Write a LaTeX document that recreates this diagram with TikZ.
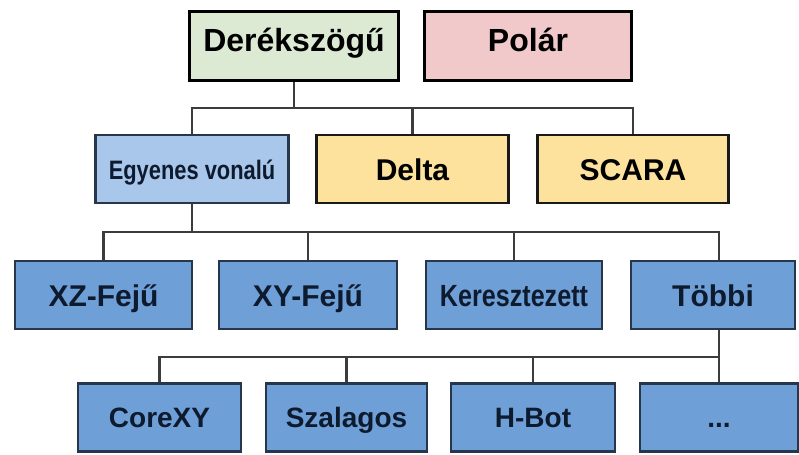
\documentclass[tikz,border=0pt]{standalone}
\usepackage{fontspec}
\setmainfont{Liberation Sans}
\newfontfamily\narrowfont{Liberation Sans}[FakeStretch=0.82]
\usepackage{xcolor}
\usepackage{tikz}
\usetikzlibrary{positioning}

\definecolor{cartfill}{HTML}{DCEAD4}
\definecolor{polfill}{HTML}{F2C9CA}
\definecolor{linfill}{HTML}{A8C7EA}
\definecolor{robfill}{HTML}{FCE29C}
\definecolor{kinfill}{HTML}{6F9FD7}
\definecolor{kinedge}{HTML}{27364A}
\definecolor{kintext}{HTML}{0E1B2E}
\definecolor{linkcol}{HTML}{3C3C3C}

\begin{document}
\begin{tikzpicture}[x=0.75pt, y=-0.75pt,
    box/.style={draw, rectangle, inner sep=0pt, text height=17pt, text depth=0pt},
    main/.style={box, line width=2.2pt, draw=black, minimum height=52pt,
                 text height=17pt, text depth=8.5pt, font=\fontsize{24}{28}\selectfont\bfseries},
    robot/.style={box, line width=2.2pt, draw=black!90, fill=robfill, minimum height=51pt, font=\fontsize{22.5}{26}\selectfont\bfseries},
    kin/.style={box, line width=1.9pt, draw=kinedge, fill=kinfill, text=kintext, minimum height=51pt, font=\fontsize{22.5}{26}\selectfont\bfseries},
    link/.style={draw=linkcol, line width=1.9pt}
]
    \useasboundingbox (0,0) rectangle (799,454);

    % Nodes
    \node [main, fill=cartfill, minimum width=157pt] (cart) at (294,46) {Derékszögű};
    \node [main, fill=polfill, minimum width=155.5pt] (polar) at (528,46) {Polár};

    \node [robot, fill=linfill, draw=kinedge, text=kintext, minimum width=145pt, text height=15pt,
           font=\fontsize{20}{24}\narrowfont\bfseries] (lin) at (192,169) {Egyenes vonalú};
    \node [robot, minimum width=144pt] (delta) at (412.5,169) {Delta};
    \node [robot, minimum width=143.5pt] (scara) at (633,169) {SCARA};

    \node [kin, minimum width=132.5pt] (xz) at (103.5,295) {XZ-Fejű};
    \node [kin, minimum width=133.5pt] (xy) at (308,295) {XY-Fejű};
    \node [kin, minimum width=132pt, text height=16.5pt, font=\fontsize{23}{26}\narrowfont\bfseries] (cross) at (514,295) {Keresztezett};
    \node [kin, minimum width=123pt] (other) at (713,295) {Többi};

    \node [kin, minimum width=122.5pt, text height=15pt, font=\fontsize{21}{24}\selectfont\bfseries] (corexy) at (159.5,417.5) {CoreXY};
    \node [kin, minimum width=120.5pt, text height=15pt, font=\fontsize{21}{24}\selectfont\bfseries] (belt) at (346.5,417.5) {Szalagos};
    \node [kin, minimum width=123pt, text height=15pt, font=\fontsize{21}{24}\selectfont\bfseries] (hbot) at (533,417.5) {H-Bot};
    \node [kin, minimum width=118.5pt, text height=15pt, font=\fontsize{21}{24}\selectfont\bfseries] (dots) at (719,417.5) {...};

    % Branch points
    \coordinate (bus1) at (294,108);
    \coordinate (bus2) at (192,232);
    \coordinate (bus3) at (719,357);

    % Lines
    \draw [link] (cart) -- (bus1);
    \draw [link] (lin.north) |- (bus1);
    \draw [link] (delta.north) |- (bus1);
    \draw [link] (scara.north) |- (bus1);

    \draw [link] (lin) -- (bus2);
    \draw [link] (xz.north) |- (bus2);
    \draw [link] (xy.north) |- (bus2);
    \draw [link] (cross.north) |- (bus2);
    \draw [link] (other.north -| bus3) |- (bus2);

    \draw [link] (other.south -| bus3) -- (bus3);
    \draw [link] (corexy.north) |- (bus3);
    \draw [link] (belt.north) |- (bus3);
    \draw [link] (hbot.north) |- (bus3);
    \draw [link] (dots) -- (bus3);
\end{tikzpicture}
\end{document}
